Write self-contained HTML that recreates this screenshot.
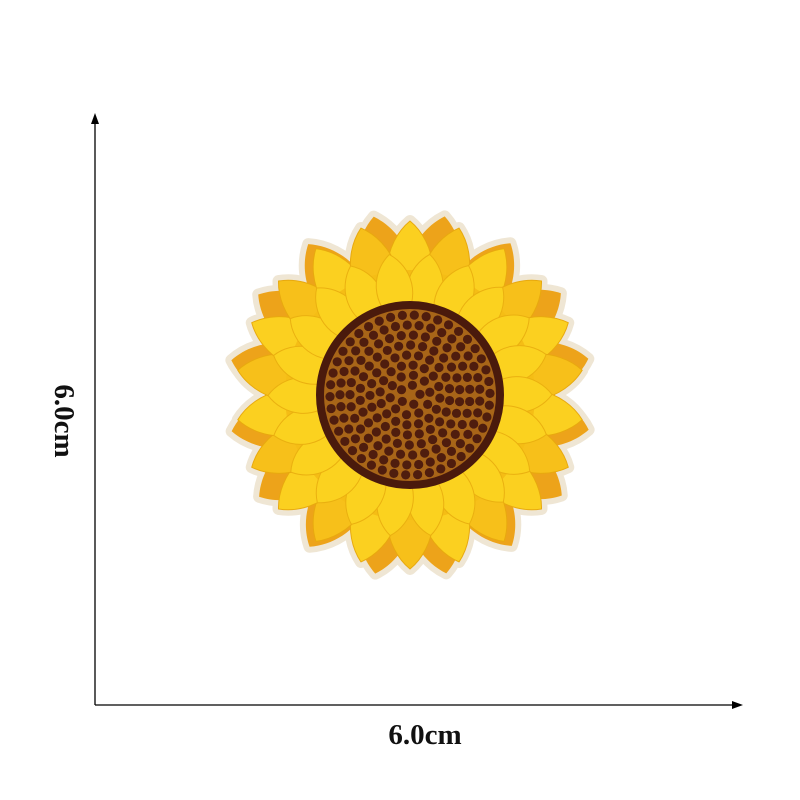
<!DOCTYPE html>
<html><head><meta charset="utf-8"><style>
html,body{margin:0;padding:0;background:#fff;width:800px;height:800px;overflow:hidden}
.lbl{font-family:"Liberation Serif",serif;font-weight:bold;font-size:29px;fill:#111}
</style></head><body>
<svg id="s" width="800" height="800" viewBox="0 0 800 800">
<g>
<line x1="95" y1="120" x2="95" y2="705" stroke="#000" stroke-width="1.3"/>
<polygon points="95,113 91,124 99,124" fill="#000"/>
<line x1="95" y1="705" x2="736" y2="705" stroke="#000" stroke-width="1.3"/>
<polygon points="743,705 732,701 732,709" fill="#000"/>
<text class="lbl" x="425" y="744" text-anchor="middle">6.0cm</text>
<text class="lbl" x="0" y="0" text-anchor="middle" transform="translate(55,421) rotate(90)">6.0cm</text>
</g>
<g id="flower"></g>
</svg>
<script>
const petalCountBack=16, petalCountFront=22;
const cx=410, cy=395;
const ns="http://www.w3.org/2000/svg";
const g=document.getElementById('flower');
function petal(angle,len,w,fill,stroke,sw){
  const p=document.createElementNS(ns,'path');
  p.setAttribute('d',`M0,-70 C${w},-${70+len*0.35} ${w*0.7},-${70+len*0.8} 0,-${70+len} C-${w*0.7},-${70+len*0.8} -${w},-${70+len*0.35} 0,-70Z`);
  p.setAttribute('transform',`translate(${cx},${cy}) rotate(${angle})`);
  p.setAttribute('fill',fill);
  if(stroke){p.setAttribute('stroke',stroke);p.setAttribute('stroke-width',sw);p.setAttribute('stroke-linejoin','round');}
  
  
  g.appendChild(p);
}
function circ(r,fill,name){
  const c=document.createElementNS(ns,'circle');
  c.setAttribute('cx',cx);c.setAttribute('cy',cy);c.setAttribute('r',r);c.setAttribute('fill',fill);
  
  
  g.appendChild(c);return c;
}
circ(150,'#f6efe0','patch-backing');
for(let i=0;i<petalCountBack;i++)petal(i*360/petalCountBack+11,112,42,'#f6efe0','#efe6d4',12);
for(let i=0;i<petalCountFront;i++)petal(i*360/petalCountFront,104,36,'#f6efe0','#efe6d4',12);
circ(145,'#eea51a','petal-underlayer');
for(let i=0;i<petalCountBack;i++)petal(i*360/petalCountBack+11,112,42,'#eda31a');
for(let i=0;i<petalCountFront;i++)petal(i*360/petalCountFront,104,36,i%2?'#f7c01a':'#fbd020','#e8a90e',1);
circ(125,'#f5bd15','petal-base');
for(let i=0;i<petalCountFront;i++)petal(i*360/petalCountFront+8,72,28,'#fbd21f','#eab010',1);
const disk=circ(90,'#a86518','center-disk');
disk.setAttribute('stroke','#4a1a0c');disk.setAttribute('stroke-width',8);
for(let r=10;r<84;r+=10){
  const n=Math.round(2*Math.PI*r/12);
  for(let k=0;k<n;k++){
    const a=k/n*2*Math.PI+r*0.37;
    const d=document.createElementNS(ns,'circle');
    d.setAttribute('cx',cx+r*Math.cos(a));d.setAttribute('cy',cy+r*Math.sin(a));
    d.setAttribute('r',4.6);d.setAttribute('fill','#4f1d0e');
    
    
    g.appendChild(d);
  }
}
</script>
</body></html>
